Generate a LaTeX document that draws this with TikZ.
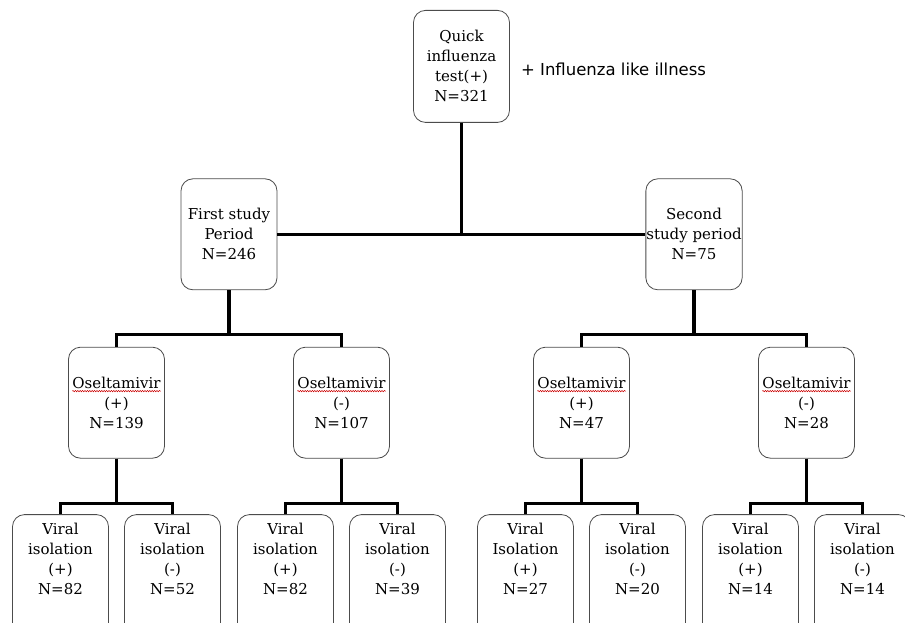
\documentclass[tikz,border=0pt]{standalone}
\usepackage{fontspec}
\setmainfont{DejaVu Serif}
\newfontfamily\notefont{DejaVu Sans}
\usetikzlibrary{positioning,decorations.pathmorphing}
\newcommand\spellwave[1]{\tikz[baseline=(w.base)]{%
    \node[draw=none, fill=none, inner sep=0pt, minimum width=0pt, minimum height=0pt,
          anchor=base, sharp corners] (w) at (0,0) {#1};
    \draw[overlay, sharp corners, red!80!black, line width=0.5pt, decorate,
          decoration={snake, amplitude=0.7pt, segment length=2.4pt}]
        ([yshift=-2.8pt]w.base west) -- ([yshift=-2.8pt]w.base east);}}

\begin{document}
\begin{tikzpicture}[x=1pt, y=1pt,
                    level 1/.style={sibling distance=465pt, level distance=112pt,
                        edge from parent path={(\tikzparentnode.south) |- (\tikzchildnode)}},
                    level 2/.style={sibling distance=225pt, level distance=112.5pt,
                        edge from parent path={(\tikzparentnode.south) -- ++(0,-44) -| (\tikzchildnode.north)}},
                    level 3/.style={sibling distance=112pt, level distance=111.5pt,
                        edge from parent path={(\tikzparentnode.south) -- ++(0,-45) -| (\tikzchildnode.north)}},
                    edge from parent/.style={draw=black, line width=3.2pt}]
    \tikzstyle{stage}=[draw=gray!60!black, fill=white, line width=0.8pt, rounded corners=12pt,
                       minimum width=96pt, minimum height=111pt, inner xsep=0.5pt, inner ysep=2pt,
                       align=center, anchor=north, font=\fontsize{15}{20}\selectfont]
    \tikzstyle{leaf}=[stage, minimum height=0pt, inner ysep=8pt,
                      execute at end node={\rule[-40pt]{0pt}{0pt}}]
    \tikzstyle{note}=[font=\notefont\fontsize{16.5}{20}\selectfont, inner sep=0pt]

    \useasboundingbox (0,0) rectangle (905,-623);
    \clip (0,0) rectangle (905,-623);

    \node[stage, minimum height=112pt] (quick) at (461.5,-10) {Quick\\influenza\\test(+)\\N=321}
        child { node[stage] (first) {First study\\Period\\N=246}
                child { node[stage] (oselFirstPos) {\spellwave{Oseltamivir}\\(+)\\N=139}
                        child { node[leaf] (virFirstPosPos) {Viral\\isolation\\(+)\\N=82} }
                        child { node[leaf] (virFirstPosNeg) {Viral\\isolation\\(-)\\N=52} }
                }
                child { node[stage] (oselFirstNeg) {\spellwave{Oseltamivir}\\(-)\\N=107}
                        child { node[leaf] (virFirstNegPos) {Viral\\isolation\\(+)\\N=82} }
                        child { node[leaf] (virFirstNegNeg) {Viral\\isolation\\(-)\\N=39} }
                }
        }
        child { node[stage] (second) {Second\\study period\\N=75}
                child { node[stage] (oselSecondPos) {\spellwave{Oseltamivir}\\(+)\\N=47}
                        child { node[leaf] (virSecondPosPos) {Viral\\Isolation\\(+)\\N=27} }
                        child { node[leaf] (virSecondPosNeg) {Viral\\isolation\\(-)\\N=20} }
                }
                child { node[stage] (oselSecondNeg) {\spellwave{Oseltamivir}\\(-)\\N=28}
                        child { node[leaf] (virSecondNegPos) {Viral\\isolation\\(+)\\N=14} }
                        child { node[leaf] (virSecondNegNeg) {Viral\\isolation\\(-)\\N=14} }
                }
        };

    \node[note, right=11pt of quick, yshift=-3pt] (ili) {+ Influenza like illness};
\end{tikzpicture}
\end{document}
